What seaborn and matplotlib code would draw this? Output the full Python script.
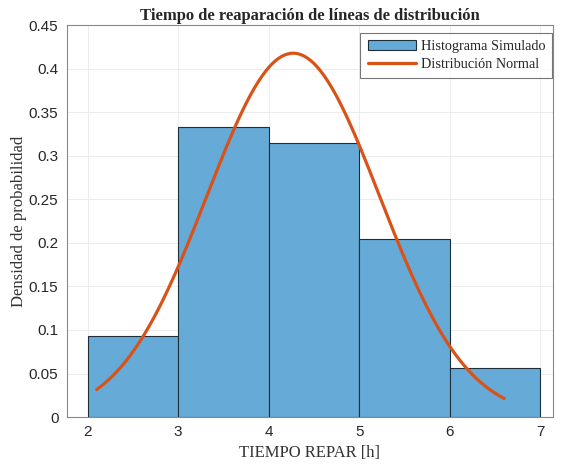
import numpy as np
import pandas as pd
import matplotlib
matplotlib.use("Agg")
import matplotlib.pyplot as plt
import seaborn as sns

# Data
bin_edges = [2, 3, 4, 5, 6, 7]
bin_heights = [0.093, 0.333, 0.315, 0.204, 0.056]
normal_mean = 4.27
normal_std = 0.955
curve_start, curve_end = 2.1, 6.6
x_ticks = [2, 3, 4, 5, 6, 7]
y_ticks = [0, 0.05, 0.1, 0.15, 0.2, 0.25, 0.3, 0.35, 0.4, 0.45]
y_tick_labels = ["0", "0.05", "0.1", "0.15", "0.2", "0.25", "0.3", "0.35", "0.4", "0.45"]

sns.set_style("white")
plt.rcParams["font.family"] = ["Liberation Serif", "DejaVu Serif"]

centers = [(bin_edges[i] + bin_edges[i + 1]) / 2 for i in range(len(bin_heights))]
hist_df = pd.DataFrame({"x": centers, "w": bin_heights})

xc = np.linspace(curve_start, curve_end, 200)
yc = np.exp(-0.5 * ((xc - normal_mean) / normal_std) ** 2) / (normal_std * np.sqrt(2 * np.pi))
curve_df = pd.DataFrame({"x": xc, "y": yc})

fig = plt.figure(figsize=(5.61, 4.65), dpi=100)
ax = fig.add_axes([0.119, 0.103, 0.867, 0.843])

sns.histplot(data=hist_df, x="x", weights="w", bins=bin_edges, stat="count",
             color="#66AAD7", alpha=1.0, edgecolor="#1f2f3a", linewidth=0.8,
             ax=ax, label="Histograma Simulado")
sns.lineplot(data=curve_df, x="x", y="y", color="#D95319", linewidth=2.3,
             ax=ax, label="Distribución Normal")

ax.set_xlim(1.77, 7.14)
ax.set_ylim(0, 0.45)
ax.set_xticks(x_ticks)
ax.set_yticks(y_ticks)
ax.set_yticklabels(y_tick_labels)
for lab in ax.get_xticklabels() + ax.get_yticklabels():
    lab.set_fontfamily(["Liberation Sans", "DejaVu Sans"])
    lab.set_fontsize(11)
    lab.set_color("#262626")
ax.tick_params(direction="in", length=3, color="#666666", pad=6)
ax.grid(True, color="#ececec", linewidth=0.7)
ax.set_axisbelow(True)
for s in ax.spines.values():
    s.set_visible(True)
    s.set_color("#888888")
    s.set_linewidth(0.8)

ax.set_title("Tiempo de reaparación de líneas de distribución", fontsize=12,
             fontweight="bold", pad=4)
ax.set_xlabel("TIEMPO REPAR [h]", fontsize=12, color="#333333")
ax.set_ylabel("Densidad de probabilidad", fontsize=12, color="#333333", labelpad=1)

handles, labels = ax.get_legend_handles_labels()
order = [labels.index("Histograma Simulado"), labels.index("Distribución Normal")]
leg = ax.legend([handles[i] for i in order], [labels[i] for i in order],
                loc="upper right", bbox_to_anchor=(0.998, 0.98),
                bbox_transform=ax.transAxes, borderaxespad=0,
                fontsize=10.3, frameon=True, fancybox=False,
                borderpad=0.5, handlelength=3.4, handletextpad=0.3,
                labelspacing=0.35)
leg.get_frame().set_edgecolor("#555555")
leg.get_frame().set_linewidth(0.8)

fig.savefig("out.png", dpi=100)
